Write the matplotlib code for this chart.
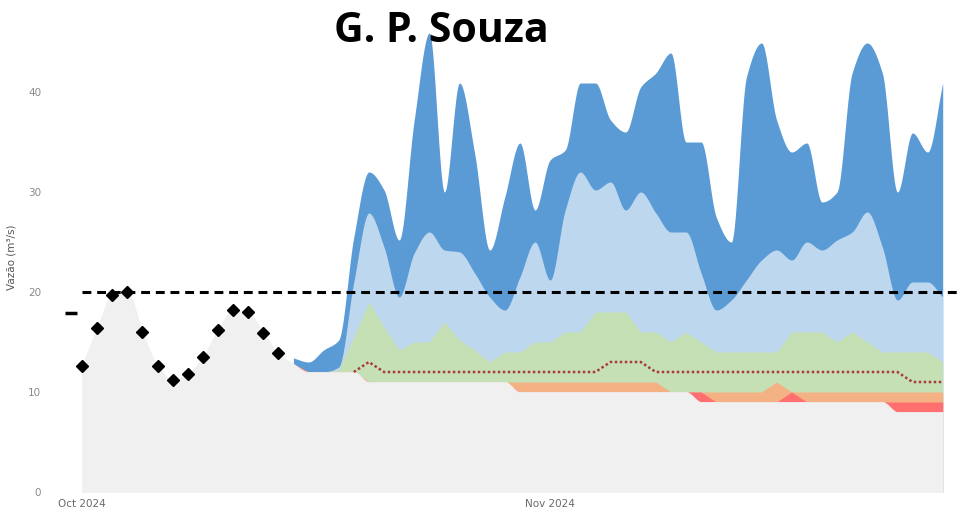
import numpy as np
import pandas as pd
import matplotlib
matplotlib.use("Agg")
import matplotlib.pyplot as plt
import matplotlib.dates as mdates

# dias do período (1 out -> 27 nov 2024)
dias = pd.date_range("2024-10-01", "2024-11-27", freq="D")
dias_prev = dias[14:]          # previsão a partir de 15/out

# vazão observada (losangos)
observado = [12.6, 16.4, 19.7, 20.0, 16.0, 12.6, 11.2, 11.8, 13.5, 16.2,
             18.2, 18.0, 15.9, 13.9]

# faixa cinza (mínimo) - observado + continuação
minimo = observado + [12.8, 12, 12, 12, 12] + [11] * 10 + [10] * 12 + [9] * 13 + [8] * 4

# percentis da previsão (15/out -> 27/nov)
faixa_vermelha = [12.8, 12, 12, 12, 12] + [11] * 10 + [10] * 12 + [10] + [9] * 5 + [10] + [9] * 10
faixa_laranja = [12.8, 12, 12, 12, 12] + [11] * 10 + [11] * 10 + [10] * 7 + [11, 10] + [10] * 10
faixa_verde = [12.8, 12, 12, 12.2, 15.5, 19, 16.5, 14.2, 15, 15,
               17, 15.2, 14.2, 13, 14, 14, 15, 15, 16, 16,
               18, 18, 18, 16, 16, 15, 16, 15, 14, 14,
               14, 14, 14, 16, 16, 16, 15, 16, 15, 14,
               14, 14, 14, 13]
faixa_azul_clara = [12.8, 12, 12, 12.5, 21, 27.9, 24.5, 19.5, 23.9, 26.0,
                    24.2, 24.0, 21.9, 19.5, 18.2, 21.5, 25.0, 21.2, 28.2, 32.0,
                    30.2, 31.0, 28.2, 30.0, 27.9, 26.0, 26.0, 21.9, 18.2, 19.2,
                    21.2, 23.2, 24.2, 23.2, 25.0, 24.2, 25.2, 26.0, 28.0, 24.5,
                    19.2, 21.0, 21.0, 19.5]
faixa_azul = [13.4, 13.0, 14.2, 15.2, 25.5, 32.0, 30.2, 25.2, 37.2, 45.9,
              30.0, 40.9, 33.9, 24.2, 29.5, 34.9, 28.2, 33.2, 34.2, 40.9,
              40.9, 37.2, 36.0, 40.5, 41.9, 43.9, 35.0, 35.0, 27.5, 25.0,
              41.5, 44.9, 37.2, 34.0, 34.9, 29.0, 30.0, 41.9, 44.9, 41.9,
              30.0, 35.9, 34.0, 40.9]
# mediana (linha pontilhada), a partir de 19/out
mediana = [12, 13] + [12] * 15 + [13] * 3 + [12] * 17 + [11] * 3

ref_vazao = 20
marca_ant = 17.9


def pchip(x, y, xs):
    # interpolação cúbica monotônica (suaviza as curvas)
    x = np.asarray(x, float)
    y = np.asarray(y, float)
    h = np.diff(x)
    d = np.diff(y) / h
    m = np.zeros_like(y)
    for k in range(1, len(y) - 1):
        if d[k - 1] * d[k] > 0:
            w1 = 2 * h[k] + h[k - 1]
            w2 = h[k] + 2 * h[k - 1]
            m[k] = (w1 + w2) / (w1 / d[k - 1] + w2 / d[k])
    m[0] = d[0]
    m[-1] = d[-1]
    i = np.clip(np.searchsorted(x, xs) - 1, 0, len(h) - 1)
    t = (xs - x[i]) / h[i]
    h00 = 2 * t**3 - 3 * t**2 + 1
    h10 = t**3 - 2 * t**2 + t
    h01 = -2 * t**3 + 3 * t**2
    h11 = t**3 - t**2
    return h00 * y[i] + h10 * h[i] * m[i] + h01 * y[i + 1] + h11 * h[i] * m[i + 1]


xn = mdates.date2num(dias)
xp = mdates.date2num(dias_prev)
xn_f = np.linspace(xn[0], xn[-1], 2000)
xp_f = np.linspace(xp[0], xp[-1], 1500)

fig = plt.figure(figsize=(9.6, 5.15), dpi=100)
W, H = 960, 515
# eixo: 1 out em x=82px, 15.1 px/dia; y=0 em 492px, 10 px por unidade
esq, dir_ = 55, 960
ax = fig.add_axes([esq / W, (H - 492) / H, (dir_ - esq) / W, 470 / H])
x0 = mdates.date2num(pd.Timestamp("2024-10-01"))
ax.set_xlim(x0 - (82 - esq) / 15.1, x0 + (dir_ - 82) / 15.1)
ax.set_ylim(0, 47)

# faixas, da maior para a menor (base abaixo de zero p/ não sobrar borda)
ax.fill_between(xp_f, -2, pchip(xp, faixa_azul, xp_f), color="#5b9bd5", lw=0)
ax.fill_between(xp_f, -2, pchip(xp, faixa_azul_clara, xp_f), color="#bdd7ee", lw=0)
ax.fill_between(xp, -2, faixa_verde, color="#c5e0b4", lw=0)
ax.fill_between(xp, -2, faixa_laranja, color="#f4b183", lw=0)
ax.fill_between(xp, -2, faixa_vermelha, color="#ff6f6f", lw=0)
ax.fill_between(xn_f, -3, pchip(xn, minimo, xn_f), color="#f0f0f0",
                lw=0.6, edgecolor="#f0f0f0")

# mediana pontilhada
ax.plot(dias[18:], mediana, color="#a83a3a", lw=1.8, ls=(0, (1, 1)))

# linha de referência
ax.plot([x0, ax.get_xlim()[1]], [ref_vazao, ref_vazao], color="black",
        lw=2.2, ls=(0, (2.9, 1.9)), zorder=4)

# observado
ax.plot(dias[:len(observado)], observado, ls="none", marker="D", ms=6,
        color="black", zorder=5)
ax.plot([x0 - 0.7], [marca_ant], ls="none", marker="_", ms=9, mew=2.5,
        color="black", zorder=5)

ax.set_yticks([0, 10, 20, 30, 40])
ax.tick_params(axis="y", length=0, labelsize=7.5, labelcolor="#8a8a8a", pad=10)
ax.set_xticks(mdates.date2num([pd.Timestamp("2024-10-01"), pd.Timestamp("2024-11-01")]))
ax.xaxis.set_major_formatter(mdates.DateFormatter("%b %Y"))
ax.tick_params(axis="x", length=0, labelsize=7.5, labelcolor="#6a6a6a", pad=5)
for s in ax.spines.values():
    s.set_visible(False)

ax.set_ylabel("Vazão (m³/s)", fontsize=7.5, color="#555555")
ax.yaxis.set_label_coords(-(esq - 17) / (dir_ - esq), (492 - 257) / 470)

fig.text(441 / W, 1 - 31 / H, "G. P. Souza", ha="center", va="center",
         fontsize=29.5, fontweight="bold", family=["Open Sans", "DejaVu Sans"])

fig.savefig("out.png", dpi=100)
